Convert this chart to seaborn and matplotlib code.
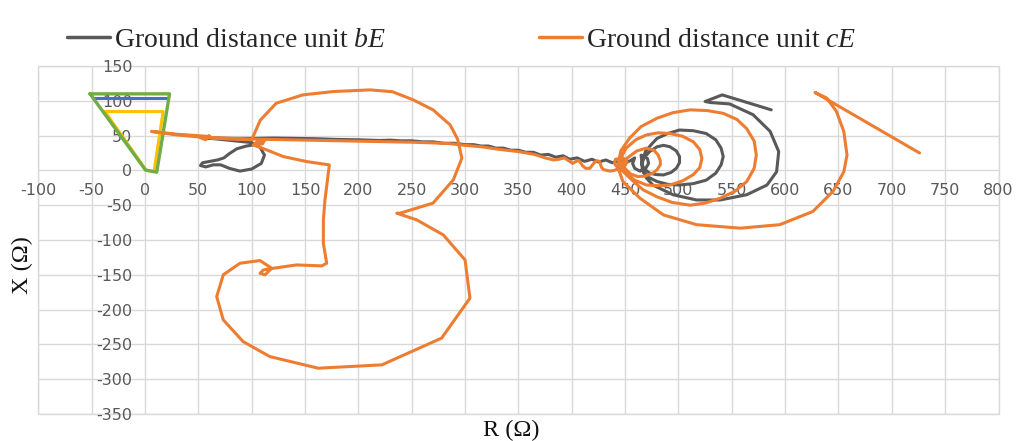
import matplotlib
matplotlib.use("Agg")
import matplotlib.pyplot as plt
import seaborn as sns
from matplotlib.patches import Rectangle
from matplotlib.lines import Line2D

sns.set_theme(style="white")
plt.rcParams['font.family'] = ['DejaVu Sans']
plt.rcParams['axes.unicode_minus'] = False
plt.rcParams['mathtext.fontset'] = 'custom'
plt.rcParams['mathtext.rm'] = 'Liberation Serif'
plt.rcParams['mathtext.it'] = 'Liberation Serif:italic'

# ---------------- data ----------------
green_x = [-51.5, 23, 11, 0.5, -51.5]
green_y = [110, 110, -2.5, 0.5, 110]
blue_x = [-47, 21]
blue_y = [104.6, 104.6]
yellow_x = [-37.5, 17, 8.4, 1, -37.5]
yellow_y = [84.5, 84.5, -2, 0.5, 84.5]

bE_x = [587, 541, 525, 530, 548, 570, 586, 594, 592, 583, 564, 539, 517, 495, 476, 470,
        466, 466, 469, 475, 480, 490, 501, 514, 526, 535, 540, 542, 540, 535, 526, 514,
        501, 490, 480, 472, 467, 466, 467, 473, 480, 486, 492, 498, 501, 501, 498, 493,
        486, 479, 473, 468, 466, 465, 471, 472, 469, 464, 459, 457, 459, 455,
        452, 445, 438, 432, 425, 419, 412, 405, 398, 392, 385, 378, 371, 364, 357, 350,
        343, 336, 329, 322, 315, 308, 300, 290, 280, 270, 260, 250, 240, 230, 220, 200,
        180, 160, 140, 120, 105, 80, 55, 100, 108, 112, 109, 100, 89, 79, 71, 64, 57,
        52, 54, 61, 68, 74, 79, 86, 95, 103]
bE_y = [87, 108.5, 99, 97.5, 95.5, 80, 56, 27, -2, -21, -35, -42.5, -42.5, -35, -21, -11,
        2, 12, 27, 38, 46, 53, 58, 57, 53, 44, 32, 20, 8, -4, -14, -19,
        -21, -20, -16, -10, -2, 8, 17, 27, 34, 36, 34, 28, 20, 11, 3, -3,
        -6.5, -6, -4, 2, 8, 22, 17, 10, 2, -1, 3, 10, 18, 14,
        12, 14, 11, 15, 12, 16, 13, 18, 16, 21, 19, 23, 22, 26, 26, 29,
        29, 32, 32, 35, 35, 37, 37, 39, 39, 41, 41, 42.5, 42.5, 43.5, 43, 44,
        44.5, 45.5, 46, 46.5, 46, 46, 47, 40, 33, 22, 10, 2, -1, 3, 8, 8, 5,
        7, 11, 13, 15, 18, 24, 31, 35, 37]

cE_x = [726, 628, 639, 648, 655, 658, 655, 645, 626, 595, 558, 517, 486, 464, 448, 443,
        446, 454, 465, 480, 495, 511, 527, 542, 555, 564, 571, 573, 571, 564, 553, 539,
        525, 511, 494, 480, 467, 458, 445,
        446, 451, 460, 470, 481, 492, 504, 514, 520, 522, 520, 514, 504, 492, 481, 470,
        459, 451, 447,
        450, 454, 461, 470, 477, 481, 483, 483, 480, 476, 469, 462, 455, 451, 447,
        445, 448, 452, 449, 443, 440, 441, 445, 447, 444, 440, 436, 430, 428, 426, 423,
        420, 417, 413, 410, 407, 404, 401, 397, 393, 388, 383, 375, 365, 350, 333, 315,
        300, 285, 270, 250, 200, 150, 120, 100, 80, 62, 60, 57, 52, 58, 30, 6, 30, 58,
        80, 100,
        108, 123, 148, 176.5, 211, 232, 251.5, 270, 286, 293, 297, 289, 270, 239,
        236, 254.6, 279.6, 300, 304.6, 278, 222, 162.4, 117, 92, 73.4, 67.2, 73.4, 89,
        107.8, 118.7, 112.5, 107.8, 111, 120.3, 142, 165.6, 170.3, 167.2, 167.2, 168.7,
        172.8, 151.5, 129.6, 114, 101.5, 105, 112, 110, 104]
cE_y = [25, 112, 104, 85, 56, 22, -2, -30, -59, -78, -83, -78, -64, -40, -16, 5,
        28, 46, 63, 75, 83, 87, 86, 82, 73, 60, 42, 22, 3, -16, -30, -40,
        -47, -50, -46, -38, -28, -16, 3,
        18, 32, 44, 51, 54, 53, 49, 41, 30, 17, 4, -6, -15, -21, -22, -21,
        -14, -4, 8,
        15, 20, 28, 32, 29, 22, 14, 8, 1, -4, -8, -9, -5, 1, 8,
        14, 18, 12, 5, 4, 10, 16, 17, 10, 3, 0, -1, 1, 4, 13, 14,
        9, 3, 3, 7, 14, 13, 10, 14, 18, 16, 15, 18, 23, 27, 30, 34,
        36, 38.5, 39.5, 40.5, 42, 43.5, 44.5, 45, 46, 47, 50, 44, 47, 49, 52, 56, 51, 47,
        45, 44,
        72, 96.5, 108.5, 113.3, 115.7, 113, 101.3, 87, 65.4, 45, 17.5, -13.6, -47, -61.5,
        -61.5, -71, -92.7, -128.6, -183.6, -241, -279.4, -284.2, -267.5, -246, -214.8, -181.3, -150, -133.4,
        -129.5, -140.6, -150, -147.8, -143, -140.6, -135.8, -137.2, -133.4, -104.7, -71, -42.4,
        7.9, 12.7, 19.9, 29.5, 36.6, 41, 43, 38, 38]

x_ticks = list(range(-100, 801, 50))
y_ticks = list(range(-350, 151, 50))

legend_labels = ["Ground distance unit $bE$", "Ground distance unit $cE$"]
x_title = "R (\u03a9)"
y_title = "X (\u03a9)"

# ---------------- figure ----------------
fig = plt.figure(figsize=(10.23, 4.41), dpi=100)
ax = fig.add_axes([38.3 / 1023, 27 / 441, 960.2 / 1023, 348 / 441])

GRAY = "#595959"
ORANGE = "#ED7D31"

sns.lineplot(x=blue_x, y=blue_y, sort=False, estimator=None, color="#4472C4", linewidth=2.2, ax=ax)
sns.lineplot(x=yellow_x, y=yellow_y, sort=False, estimator=None, color="#FFC000", linewidth=2.2, ax=ax)
sns.lineplot(x=green_x, y=green_y, sort=False, estimator=None, color="#70AD47", linewidth=2.4, ax=ax)
sns.lineplot(x=bE_x, y=bE_y, sort=False, estimator=None, color=GRAY, linewidth=2.2, ax=ax)
sns.lineplot(x=cE_x, y=cE_y, sort=False, estimator=None, color=ORANGE, linewidth=2.2, ax=ax)

ax.set_xlim(-100, 800)
ax.set_ylim(-350, 150)
ax.set_xticks(x_ticks)
ax.set_yticks(y_ticks)
ax.grid(True, color="#d9d9d9", linewidth=1)
ax.set_axisbelow(True)
for s in ["top", "right"]:
    ax.spines[s].set_visible(False)
ax.spines["left"].set_position(("data", 0))
ax.spines["bottom"].set_position(("data", 0))
ax.spines["left"].set_visible(False)
ax.spines["bottom"].set_visible(False)
ax.add_patch(Rectangle((0, 0), 1, 1, transform=ax.transAxes, fill=False,
                       edgecolor="#d9d9d9", linewidth=1, clip_on=False, zorder=0))
ax.tick_params(axis="both", length=0, labelsize=11.5, labelcolor=GRAY, pad=9)
ax.set_xlabel("")
ax.set_ylabel("")

fig.text(22 / 1023, 1 - 265 / 441, y_title, rotation=90, ha="center", va="center",
         fontsize=17.5, family="Liberation Serif", color="#111111")
fig.text(511 / 1023, 1 - 430 / 441, x_title, ha="center", va="center",
         fontsize=17.5, family="Liberation Serif", color="#111111")

handles = [Line2D([], [], color=GRAY, linewidth=2.5), Line2D([], [], color=ORANGE, linewidth=2.5)]
fig.legend(handles, legend_labels, loc="center left", bbox_to_anchor=(67 / 1023, 1 - 40 / 441),
           ncol=2, frameon=False, prop={"family": "Liberation Serif", "size": 20},
           handlelength=1.55, handletextpad=0.15, columnspacing=5.5, borderpad=0, borderaxespad=0)

fig.savefig("out.png", dpi=100, facecolor="white")
